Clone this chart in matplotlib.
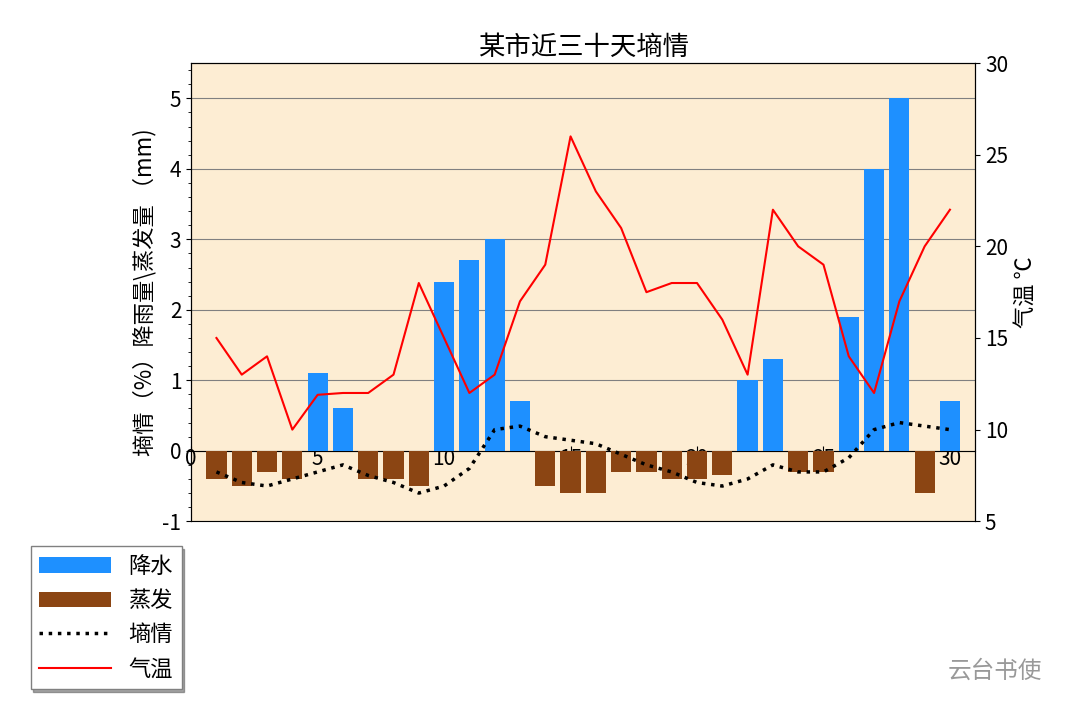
import matplotlib
matplotlib.use("Agg")
import matplotlib.pyplot as plt
import numpy as np

plt.rcParams['font.family'] = ['Noto Sans CJK SC', 'DejaVu Sans']
plt.rcParams['axes.unicode_minus'] = False

days = np.arange(1, 31)
rain = [0, 0, 0, 0, 1.1, 0.6, 0, 0, 0, 2.4, 2.7, 3.0, 0.7, 0, 0,
        0, 0, 0, 0, 0, 0, 1.0, 1.3, 0, 0, 1.9, 4.0, 5.0, 0, 0.7]
evap = [-0.4, -0.5, -0.3, -0.4, 0, 0, -0.4, -0.4, -0.5, 0, 0, 0, 0, -0.5, -0.6,
        -0.6, -0.3, -0.3, -0.4, -0.4, -0.35, 0, 0, -0.3, -0.3, 0, 0, 0, -0.6, 0]
moist = [-0.3, -0.45, -0.5, -0.4, -0.3, -0.2, -0.35, -0.45, -0.6, -0.5, -0.25, 0.3,
         0.35, 0.2, 0.15, 0.1, -0.05, -0.2, -0.3, -0.45, -0.5, -0.4, -0.2, -0.3,
         -0.3, -0.1, 0.3, 0.4, 0.35, 0.3]
temp = [15, 13, 14, 10, 11.9, 12, 12, 13, 18, 15, 12, 13, 17, 19, 26,
        23, 21, 17.5, 18, 18, 16, 13, 22, 20, 19, 14, 12, 17, 20, 22]

fig = plt.figure(figsize=(10.8, 7.25), dpi=100)
ax = fig.add_axes([0.177, 0.281, 0.726, 0.632])
ax.set_facecolor('#fdedd3')
b1 = ax.bar(days, rain, width=0.8, color='#1e90ff', label='降水', zorder=3)
b2 = ax.bar(days, evap, width=0.8, color='#8b4513', label='蒸发', zorder=3)
l1, = ax.plot(days, moist, ':', color='black', lw=2.5, label='墒情', zorder=4)
ax.set_xlim(0, 31)
ax.set_ylim(-1, 5.5)
ax.spines['bottom'].set_position(('data', 0))
ax.set_xticks([0, 5, 10, 15, 20, 25, 30])
ax.tick_params(axis='x', direction='in', labelsize=15, pad=-2)
ax.tick_params(axis='y', labelsize=15)
ax.minorticks_on()
ax.tick_params(axis='x', which='minor', bottom=False)
ax.grid(axis='y', color='gray', lw=0.8, zorder=0)
ax.set_ylabel('墒情（%）降雨量\\蒸发量 （mm)', fontsize=16)
ax.set_title('某市近三十天墒情', fontsize=19)

ax2 = ax.twinx()
l2, = ax2.plot(days, temp, color='red', lw=1.5, label='气温', zorder=5)
ax2.set_ylim(5, 30)
ax2.set_yticks([5, 10, 15, 20, 25, 30])
ax2.tick_params(labelsize=15)
ax2.set_ylabel('气温 ℃', fontsize=16)
ax2.spines['bottom'].set_visible(True)

fig.legend(handles=[b1, b2, l1, l2], loc='upper left', bbox_to_anchor=(0.018, 0.262),
           fontsize=16, fancybox=False, shadow=True, edgecolor='gray',
           handlelength=3.2)
fig.text(0.965, 0.065, '云台书使', fontsize=17, color='#999999', ha='right')
fig.savefig('out.png', dpi=100)
